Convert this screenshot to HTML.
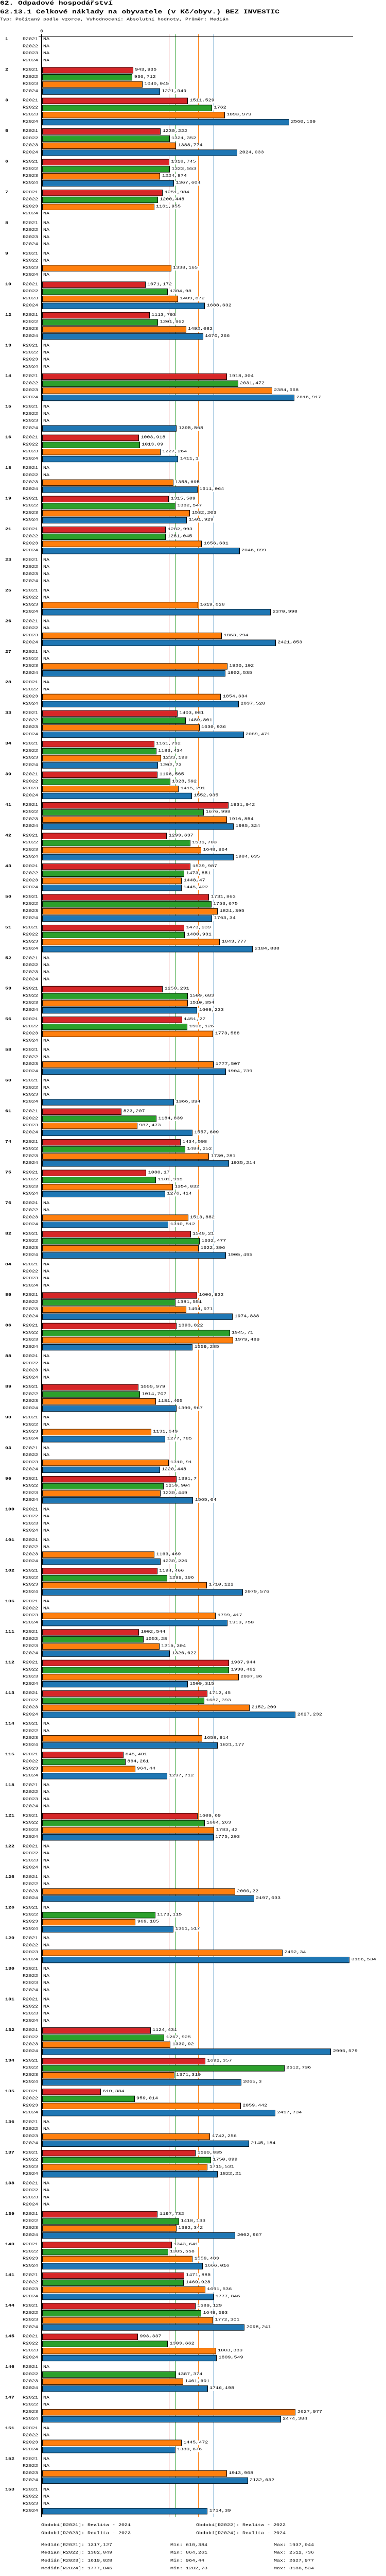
<!DOCTYPE html>
<html><head><meta charset="utf-8">
<style>
html,body{margin:0;padding:0;background:#fff;overflow:hidden;}
#chart{position:absolute;left:0;top:0;width:750px;height:6560px;overflow:hidden;background:#fff;font-family:"Liberation Mono","DejaVu Sans Mono",monospace;font-size:10px;color:#000;transform-origin:0 0;}
#chart div{position:absolute;box-sizing:border-box;}
.t{white-space:nowrap;height:12px;line-height:12px;}
.r{text-align:right;}
</style></head>
<body>
<div id="chart">
<div class="t" style="left:0;top:1px;height:16px;line-height:16px;font-size:14.6px;font-weight:bold;">62. Odpadové hospodářství</div>
<div class="t" style="left:0;top:23px;height:16px;line-height:16px;font-size:14.6px;font-weight:bold;">62.13.1 Celkové náklady na obyvatele (v Kč/obyv.) BEZ INVESTIC</div>
<div class="t" style="left:0;top:45px;">Typ: Počítaný podle vzorce, Vyhodnocení: Absolutní hodnoty, Průměr: Medián</div>
<div class="t" style="left:78px;top:75px;">0</div>
<div id="medians" style="left:0;top:0;width:750px;height:6560px;"></div>
<div id="bars" style="left:0;top:0;width:750px;height:6560px;"></div>
<div style="left:75px;top:92px;width:611px;height:1px;background:#000;"></div>
<div style="left:80px;top:87px;width:2px;height:6323px;background:#000;"></div>
<div class="t" style="left:80px;top:6426px;">Období[R2021]: Realita - 2021</div>
<div class="t" style="left:381px;top:6426px;">Období[R2022]: Realita - 2022</div>
<div class="t" style="left:80px;top:6446px;">Období[R2023]: Realita - 2023</div>
<div class="t" style="left:381px;top:6446px;">Období[R2024]: Realita - 2024</div>
<div id="stats" style="left:0;top:0;width:750px;height:6560px;"></div>
</div>
<script>
const groups = [1,2,3,5,6,7,8,9,10,12,13,14,15,16,18,19,21,23,25,26,27,28,33,34,39,41,42,43,50,51,52,53,56,58,60,61,74,75,76,82,84,85,86,88,89,90,93,96,100,101,102,106,111,112,113,114,115,118,121,122,125,126,129,130,131,132,134,135,136,137,138,139,140,141,144,145,146,147,151,152,153];
const years = ["R2021","R2022","R2023","R2024"];
const v2021 = [null,943.935,1511.529,1230.222,1318.745,1251.984,null,null,1071.172,1113.793,null,1918.304,null,1003.918,null,1315.509,1282.993,null,null,null,null,null,1403.081,1161.792,1196.565,1931.942,1293.637,1539.987,1731.863,1473.939,null,1250.231,1451.27,null,null,823.207,1434.598,1080.17,null,1540.21,null,1606.922,1393.822,null,1000.979,null,null,1391.7,null,null,1194.466,null,1002.544,1937.944,1712.45,null,845.401,null,1609.69,null,null,null,null,null,null,1124.431,1692.357,610.384,null,1590.835,null,1197.732,1343.641,1471.885,1589.129,993.337,null,null,null,null,null];
const v2022 = [null,936.712,1762,1321.352,1323.553,1200.448,null,null,1304.98,1201.962,null,2031.472,null,1013.09,null,1382.547,1281.045,null,null,null,null,null,1489.801,1183.434,1328.592,1676.998,1536.703,1473.851,1753.675,1480.931,null,1509.683,1506.126,null,null,1184.839,1484.252,1181.915,null,1632.477,null,1381.551,1945.71,null,1014.707,null,null,1259.904,null,null,1299.196,null,1053.28,1938.482,1682.393,null,864.261,null,1684.263,null,null,1173.115,null,null,null,1267.925,2512.736,959.014,null,1750.899,null,1418.133,1305.558,1469.928,1649.593,1303.662,1387.374,null,null,null,null];
const v2023 = [null,1040.045,1893.979,1388.774,1224.874,1161.955,null,1338.165,1409.872,1492.082,null,2384.668,null,1227.264,1358.695,1532.203,1656.631,null,1619.028,1863.294,1920.102,1854.634,1630.936,1233.198,1415.291,1916.854,1648.964,1448.47,1821.395,1843.777,null,1510.354,1773.588,1777.507,null,987.473,1730.281,1354.032,1513.882,1622.396,null,1494.971,1979.489,null,1181.405,1131.649,1310.91,1230.449,null,1163.469,1710.122,1799.417,1215.304,2037.36,2152.209,1658.914,964.44,null,1783.42,null,2000.22,969.185,2492.34,null,null,1330.92,1371.319,2059.442,1742.256,1715.531,null,1392.342,1559.483,1691.536,1772.301,1803.389,1461.601,2627.977,1445.472,1913.908,null];
const v2024 = [null,1221.949,2560.169,2024.033,1367.604,null,null,null,1688.632,1670.266,null,2616.917,1395.568,1411.1,1611.064,1501.929,2046.899,null,2370.998,2421.853,1902.535,2037.528,2089.471,1202.73,1552.935,1985.324,1984.635,1445.422,1763.34,2184.838,null,1609.233,null,1904.739,1366.394,1557.609,1935.214,1276.414,1310.512,1905.495,null,1974.838,1559.285,null,1390.967,1277.785,1220.448,1565.04,null,1230.226,2079.576,1919.758,1326.622,1509.315,2627.232,1821.177,1297.712,null,1775.203,null,2197.033,1361.517,3186.534,null,null,2995.579,2065.3,2417.734,2145.184,1822.21,null,2002.967,1666.016,1777.846,2098.241,1809.549,1716.198,2474.384,1380.676,2132.632,1714.39];
const medians = [1317.127,1382.049,1619.028,1777.846];
const minsV = [610.384,864.261,964.44,1202.73];
const maxsV = [1937.944,2512.736,2627.977,3186.534];
const colors = ["#d62728","#2ca02c","#ff7f0e","#1f77b4"];

const X0 = 81.7, K = 0.1875;
function xs(v){ return X0 + v*K; }
function rowY(g, r){ return 101 + g*78 + r*18; }
function fmt(v){ return String(v).replace('.', ','); }
function mk(parent, cls, css, txt){
  const e = document.createElement('div');
  if (cls) e.className = cls;
  e.style.cssText = css;
  if (txt !== undefined) e.textContent = txt;
  parent.appendChild(e); return e;
}
const series = [v2021, v2022, v2023, v2024];
const medG = document.getElementById('medians');
medians.forEach((m,i)=>{
  const l = mk(medG, '', 'left:'+(xs(m)-0.5).toFixed(1)+'px;top:87px;width:1px;height:6323px;background:'+colors[i]+';');
  
  
});
const barsG = document.getElementById('bars');
groups.forEach((gid, g)=>{
  const gl = mk(barsG, 't', 'left:10px;top:'+(rowY(g,0)-6)+'px;font-weight:bold;', String(gid));
  
  
  for (let r=0;r<4;r++){
    const cy = rowY(g,r);
    const yl = mk(barsG, 't r', 'left:34px;width:40px;top:'+(cy-6)+'px;', years[r]);
    
    
    const v = series[r][g];
    if (v === null){
      const na = mk(barsG, 't', 'left:84px;top:'+(cy-6)+'px;', 'NA');
      
      
    } else {
      const xe = xs(v);
      const b = mk(barsG, '', 'left:81.5px;top:'+(cy-8.5)+'px;width:'+(xe-81.5).toFixed(1)+'px;height:16px;background:'+colors[r]+';border:1px solid #000;');
      
      
      const t = mk(barsG, 't', 'left:'+(xe+2).toFixed(1)+'px;top:'+(cy-6)+'px;background:#fff;padding:0 1.5px;', fmt(v));
      
      
    }
  }
});
const st = document.getElementById('stats');
for (let i=0;i<4;i++){
  const top = 6476 + i*20;
  const a = mk(st, 't', 'left:80px;top:'+top+'px;', 'Medián['+years[i]+']: '+fmt(medians[i]));
  
  
  const b = mk(st, 't', 'left:331px;top:'+top+'px;', 'Min: '+fmt(minsV[i]));
  
  
  const c = mk(st, 't', 'left:532px;top:'+top+'px;', 'Max: '+fmt(maxsV[i]));
  
  
}
function fitChart(){
  const vw = document.documentElement.clientWidth || window.innerWidth || 750;
  const vh = window.innerHeight || document.documentElement.clientHeight || 6560;
  let sx = vw / 750;
  if (Math.abs(sx-1) < 0.01) sx = 1;
  let sy = sx;
  if (vh >= 2000 && vh < 6550) sy = vh / 6560;
  const ch = document.getElementById('chart');
  ch.style.transform = (sx === 1 && sy === 1) ? 'none' : 'scale('+sx+','+sy+')';
}
fitChart();
window.addEventListener('resize', fitChart);
</script>
</body></html>
